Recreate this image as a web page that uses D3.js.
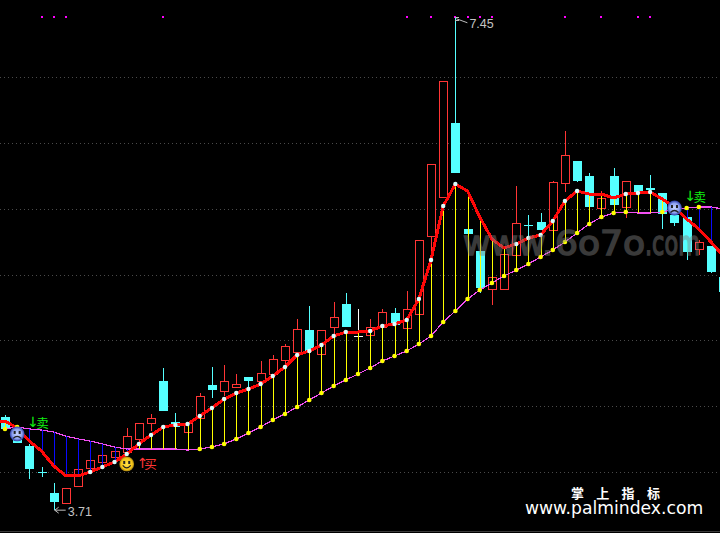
<!DOCTYPE html>
<html><head><meta charset="utf-8">
<script src="https://cdn.jsdelivr.net/npm/d3@7/dist/d3.min.js"></script>
<style>html,body{margin:0;padding:0;background:#000}svg{display:block}</style>
</head><body><svg id="c" width="720" height="533"></svg>
<script>
const open_=[4.418,4.334,4.197,4.000,3.841,3.765,3.894,4.030,4.076,4.114,4.152,4.251,4.372,4.691,4.380,4.304,4.410,4.661,4.615,4.646,4.722,4.691,4.744,4.851,4.911,5.078,4.896,5.101,5.276,5.033,5.041,5.101,5.208,5.094,5.200,5.792,6.089,6.651,5.846,5.678,5.390,5.390,5.648,5.876,5.899,5.838,6.195,6.362,6.248,6.005,6.248,6.013,6.180,6.157,6.119,5.952,5.937,5.694,5.716,5.481];
const close_=[4.327,4.220,4.023,4.000,3.772,3.878,4.023,4.091,4.129,4.159,4.273,4.372,4.410,4.463,4.342,4.372,4.577,4.623,4.691,4.668,4.691,4.752,4.858,4.957,5.086,4.919,5.078,5.177,5.101,5.033,5.101,5.215,5.116,5.238,5.762,6.339,6.970,6.271,5.808,5.397,5.481,5.656,5.891,5.876,5.838,6.203,6.408,6.210,6.013,6.081,6.028,6.210,6.119,6.142,5.960,5.891,5.671,5.747,5.519,5.367];
const high_=[4.433,4.349,4.213,4.038,3.916,3.878,4.023,4.091,4.129,4.159,4.334,4.372,4.441,4.790,4.448,4.372,4.600,4.797,4.813,4.744,4.722,4.843,4.889,4.972,5.162,5.261,5.078,5.291,5.360,5.238,5.162,5.238,5.246,5.375,5.762,6.339,6.970,7.450,5.846,5.678,5.481,5.656,6.172,5.952,5.967,6.210,6.590,6.362,6.271,6.134,6.309,6.210,6.180,6.256,6.119,5.952,5.937,5.762,5.716,5.481];
const low_=[4.319,4.220,3.947,3.962,3.710,3.765,3.894,4.030,4.076,4.114,4.152,4.182,4.311,4.463,4.342,4.304,4.410,4.562,4.577,4.638,4.615,4.691,4.744,4.797,4.911,4.919,4.896,5.025,5.101,5.025,5.041,5.101,5.116,5.094,5.200,5.610,6.089,6.271,5.808,5.360,5.268,5.390,5.648,5.785,5.838,5.838,6.127,6.203,6.013,6.005,6.028,5.929,6.119,6.142,5.846,5.868,5.610,5.648,5.511,5.367];
const maPrior=4.387;
const ma=[4.387,4.334,4.235,4.159,4.046,3.970,3.970,4.000,4.038,4.076,4.137,4.213,4.281,4.342,4.357,4.365,4.425,4.486,4.554,4.600,4.630,4.668,4.729,4.797,4.889,4.919,4.965,5.033,5.063,5.063,5.071,5.109,5.124,5.154,5.314,5.610,6.020,6.187,6.134,5.937,5.770,5.701,5.732,5.777,5.800,5.906,6.058,6.134,6.111,6.111,6.081,6.111,6.119,6.127,6.073,6.013,5.922,5.846,5.747,5.641];
const band=[4.327,4.342,4.327,4.319,4.304,4.273,4.251,4.235,4.213,4.190,4.175,4.175,4.175,4.175,4.175,4.167,4.175,4.190,4.213,4.251,4.296,4.342,4.395,4.441,4.494,4.547,4.600,4.653,4.699,4.744,4.790,4.843,4.881,4.919,4.972,5.033,5.139,5.223,5.314,5.382,5.435,5.489,5.534,5.580,5.633,5.686,5.747,5.815,5.884,5.937,5.967,5.975,5.967,5.967,5.975,5.997,6.005,6.013,6.013,5.997];
const whiteDots=[7,8,9,10,11,12,13,14,15,16,17,18,19,20,21,22,23,24,25,26,27,28,30,31,32,33,34,35,36,37,42,43,44,45,46,47,51,52,53];
const yellowDots=[0,1,16,17,18,19,20,21,22,23,24,25,26,27,28,29,30,31,32,33,34,35,36,37,38,39,40,41,42,43,44,45,46,47,48,49,50,51,54,56,57];
const topMarks=[3,4,5,13,33,35,37,38,39,40,46,49,52,53];
const topMarkPrice=7.456;
const whiteDoji=[29];
const gridPrices=[4,4.5,5,5.5,6,6.5,7];
const sellIdx=[1,55], sellPrice=[4.289,6.005];
const buyIdx=[10], buyPrice=[4.061];
const sellLabel="卖", buyLabel="买";
const hiIdx=37, hiPrice=7.45, loIdx=4, loPrice=3.71;
const brand="掌上指标", site="www.palmindex.com", markParts=["www.","6o7o",".com"];

const RED="#ff3535",CY="#55ffff",MAG="#f24ff2";
const svg=d3.select("#c");
const x=d3.scaleLinear().domain([0,58]).range([5,711]);
const y=d3.scaleLinear().domain([4,7]).range([472,77]);
const px=v=>Math.round(v)+.5;
const idx=d3.range(open_.length);

svg.append("rect").attr("width",720).attr("height",533).attr("fill","#000");
// grid
svg.append("g").attr("shape-rendering","crispEdges").selectAll("line").data(gridPrices).join("line")
 .attr("x1",0).attr("x2",720).attr("y1",d=>px(y(d))).attr("y2",d=>px(y(d)))
 .attr("stroke","#4a4a4a").attr("stroke-dasharray","1 3");
svg.append("line").attr("x1",0).attr("x2",720).attr("y1",531.5).attr("y2",531.5).attr("stroke","#3a3a3a");

// candles
const cg=svg.append("g").attr("shape-rendering","crispEdges");
idx.forEach(i=>{
  const o=open_[i],c=close_[i],h=high_[i],l=low_[i];
  const cx=Math.round(x(i));
  const up=c>o, cross=Math.abs(o-c)<1e-6;
  const col=whiteDoji.includes(i)?"#ffffff":up?RED:CY;
  const top=Math.round(y(Math.max(o,c))),bot=Math.round(y(Math.min(o,c)));
  cg.append("line").attr("x1",cx+.5).attr("x2",cx+.5).attr("y1",Math.round(y(h))).attr("y2",top).attr("stroke",col);
  cg.append("line").attr("x1",cx+.5).attr("x2",cx+.5).attr("y1",bot).attr("y2",Math.round(y(l))).attr("stroke",col);
  if(cross){
    cg.append("line").attr("x1",cx-4).attr("x2",cx+5).attr("y1",top+.5).attr("y2",top+.5).attr("stroke",col);
  }else if(up){
    cg.append("rect").attr("x",cx-4+.5).attr("y",top+.5).attr("width",8).attr("height",bot-top).attr("fill","#000").attr("stroke",col);
  }else{
    cg.append("rect").attr("x",cx-4).attr("y",top).attr("width",9).attr("height",Math.max(bot-top,1)).attr("fill",col);
  }
});

// band line
svg.append("path").attr("d",d3.line().x((d,i)=>x(i)).y(d=>y(d))(band)).attr("fill","none").attr("stroke",MAG).attr("stroke-width",1.2).attr("shape-rendering","crispEdges");

// sticks
svg.append("g").attr("shape-rendering","crispEdges").selectAll("line").data(idx).join("line")
 .attr("x1",i=>Math.round(x(i))+.5).attr("x2",i=>Math.round(x(i))+.5)
 .attr("y1",i=>y(ma[i])).attr("y2",i=>y(band[i]))
 .attr("stroke",i=>ma[i]>=band[i]?"#ffff00":"#0a0aff")
 .attr("stroke-width",1);

// ma
const maPts=[[-1,maPrior]].concat(ma.map((v,i)=>[i,v]));
svg.append("path").attr("d",d3.line().x(d=>x(d[0])).y(d=>y(d[1]))(maPts))
 .attr("fill","none").attr("stroke","#ff0808").attr("stroke-width",3).attr("stroke-linejoin","round").attr("shape-rendering","crispEdges");

// dots
svg.append("g").selectAll("circle").data(yellowDots).join("circle")
 .attr("cx",i=>x(i)).attr("cy",i=>y(band[i])).attr("r",2.3).attr("fill","#ffff00");
svg.append("g").selectAll("circle").data(whiteDots).join("circle")
 .attr("cx",i=>x(i)).attr("cy",i=>y(ma[i])).attr("r",2.2).attr("fill","#d8ffff");

// top marks
svg.append("g").attr("shape-rendering","crispEdges").selectAll("rect").data(topMarks).join("rect")
 .attr("x",i=>Math.round(x(i))-1).attr("y",y(topMarkPrice)-1).attr("width",2).attr("height",2).attr("fill","#ff00ff");

// faces
const defs=svg.append("defs");
const g1=defs.append("radialGradient").attr("id","sad");
g1.append("stop").attr("offset","0%").attr("stop-color","#c9d6ff");
g1.append("stop").attr("offset","65%").attr("stop-color","#8ea2f0");
g1.append("stop").attr("offset","100%").attr("stop-color","#2a3aa8");
const g2=defs.append("radialGradient").attr("id","happy");
g2.append("stop").attr("offset","0%").attr("stop-color","#ffe04a");
g2.append("stop").attr("offset","75%").attr("stop-color","#f5c518");
g2.append("stop").attr("offset","100%").attr("stop-color","#9c7a10");
function face(cx,cy,happy){
  const g=svg.append("g").attr("transform",`translate(${cx},${cy})`);
  g.append("circle").attr("r",7.4).attr("fill",`url(#${happy?"happy":"sad"})`);
  g.append("rect").attr("x",-3.5).attr("y",-3).attr("width",2).attr("height",3).attr("fill","#222");
  g.append("rect").attr("x",1.5).attr("y",-3).attr("width",2).attr("height",3).attr("fill","#222");
  const arc=happy?"M-4,1.5 Q0,6.5 4,1.5":"M-4,4.5 Q0,0.5 4,4.5";
  g.append("path").attr("d",arc).attr("fill","none").attr("stroke","#222").attr("stroke-width",1.2);
}
sellIdx.forEach((i,k)=>face(x(i),y(sellPrice[k]),false));
buyIdx.forEach((i,k)=>face(x(i),y(buyPrice[k]),true));

// signal labels
const cjk="'Noto Sans CJK SC'";
function sig(cx,cy,arrow,ch,col,ax,ay,gap){
  const t=svg.append("text").attr("x",cx+ax).attr("y",cy+ay).attr("fill",col);
  t.append("tspan").attr("font-family","'DejaVu Sans'").attr("font-size",14).text(arrow);
  t.append("tspan").attr("font-family",cjk).attr("font-size",12.5).attr("dx",gap).attr("dy",1).text(ch);
}
sellIdx.forEach((i,k)=>sig(x(i),y(sellPrice[k]),"↓",sellLabel,"#10f010",10,-7,-2.7));
buyIdx.forEach((i,k)=>sig(x(i),y(buyPrice[k]),"↑",buyLabel,RED,10,4,-4.2));

// extreme labels
const lab=svg.append("g").attr("stroke","#bdbdbd").attr("fill","none").attr("shape-rendering","crispEdges");
{
  const hx=x(hiIdx),hy=y(hiPrice),lx=x(loIdx),ly=y(loPrice);
  lab.append("path").attr("d",`M${hx},${hy}h4M${hx},${hy+3}h4`);
  lab.append("path").attr("d",`M${hx+1},${hy+1}L${hx+12},${hy+5}`).attr("shape-rendering","auto");
  lab.append("path").attr("d",`M${lx+1},${ly}h11M${lx+1},${ly}l4,-3M${lx+1},${ly}l4,3`).attr("shape-rendering","auto");
  svg.append("text").attr("x",hx+14).attr("y",hy+10).attr("fill","#c4c4c4").attr("font-family","'Liberation Sans'").attr("font-size",12.5).text(d3.format(".2f")(hiPrice));
  svg.append("text").attr("x",lx+14).attr("y",ly+6).attr("fill","#c4c4c4").attr("font-family","'Liberation Sans'").attr("font-size",12.5).text(d3.format(".2f")(loPrice));
}

// watermark
const wm=svg.append("g").attr("opacity",.45);
[[463,90],[555,90],[645,55]].forEach((p,k)=>{
  wm.append("text").attr("x",p[0]).attr("y",255).attr("font-family","'DejaVu Sans'").attr("font-size",33)
   .attr("fill","#808080").attr("stroke","#808080").attr("stroke-width",1.5)
   .attr("textLength",p[1]).attr("lengthAdjust","spacingAndGlyphs").text(markParts[k]);
});

// footer
brand.split("").forEach((ch,i)=>{
  svg.append("text").attr("x",571+i*25.3).attr("y",498).attr("fill","#fff").attr("font-family",cjk).attr("font-weight",700).attr("font-size",13).text(ch);
});
svg.append("text").attr("x",525).attr("y",514).attr("fill","#fff").attr("font-family","'DejaVu Sans'").attr("font-size",17.2).text(site);
</script></body></html>
